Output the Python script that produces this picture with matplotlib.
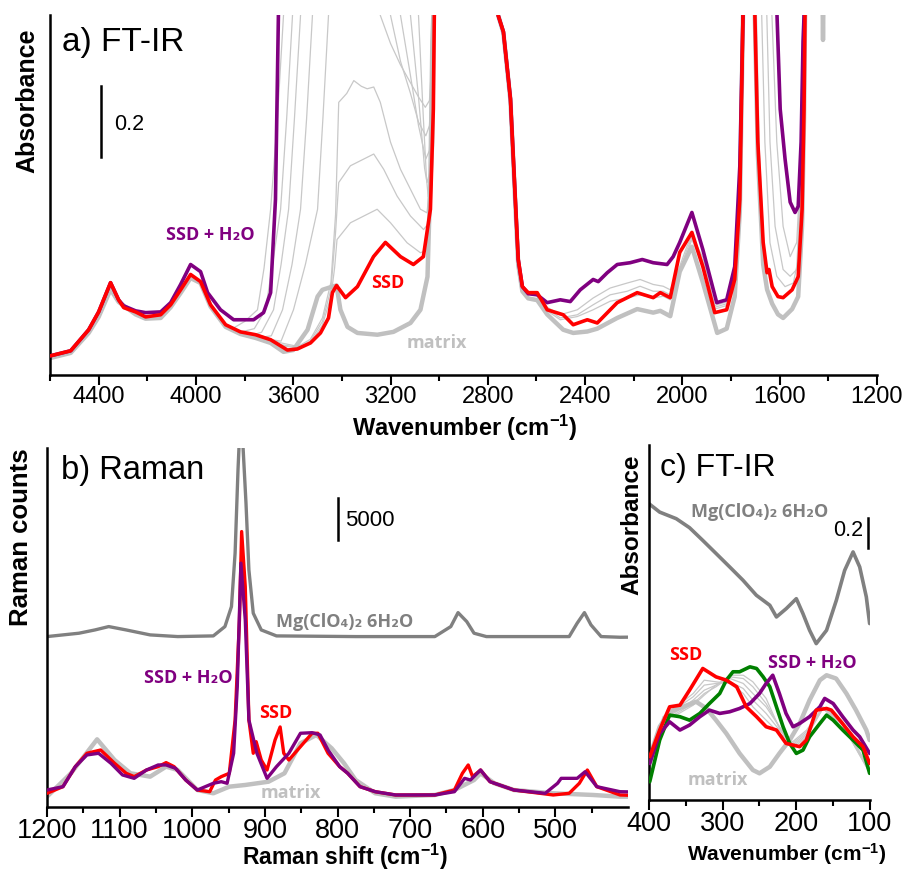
import matplotlib.pyplot as plt
from matplotlib.ticker import MultipleLocator, FixedLocator

plt.rcParams['font.family'] = ['Liberation Sans', 'DejaVu Sans']
plt.rcParams['mathtext.fontset'] = 'custom'
plt.rcParams['mathtext.rm'] = 'Liberation Sans'
plt.rcParams['mathtext.default'] = 'regular'

RED = '#ff0000'
PURPLE = '#800080'
GREEN = '#008000'
MATRIX = '#c0c0c0'
THIN = '#c8c8c8'
DARK = '#808080'
LABEL_FONT = ['Open Sans', 'DejaVu Sans']

# ---------------- a) FT-IR, (wavenumber cm-1, absorbance); 1.3 = off scale
ir_ssd = [(4597, 0.054), (4515, 0.068), (4441, 0.127), (4400, 0.177), (4351, 0.259), (4318, 0.211),
          (4297, 0.189), (4248, 0.177), (4207, 0.163), (4145, 0.169), (4104, 0.197), (4063, 0.239),
          (4022, 0.282), (3981, 0.262), (3940, 0.197), (3878, 0.141), (3817, 0.121), (3755, 0.113),
          (3693, 0.099), (3624, 0.070), (3583, 0.073), (3529, 0.090), (3488, 0.118), (3455, 0.160),
          (3439, 0.231), (3422, 0.251), (3385, 0.217), (3336, 0.248), (3270, 0.332), (3221, 0.372),
          (3159, 0.332), (3106, 0.310), (3065, 0.332), (3036, 0.465), (3024, 0.746), (3020, 1.008),
          (3005, 1.3), (2760, 1.3), (2757, 1.008), (2736, 0.963), (2707, 0.775), (2687, 0.493),
          (2675, 0.324), (2658, 0.248), (2634, 0.231), (2597, 0.231), (2556, 0.183), (2490, 0.169),
          (2449, 0.141), (2391, 0.155), (2350, 0.146), (2268, 0.203), (2186, 0.231), (2120, 0.217),
          (2091, 0.231), (2050, 0.217), (2011, 0.344), (1961, 0.400), (1916, 0.304), (1867, 0.175),
          (1818, 0.183), (1785, 0.268), (1764, 0.493), (1751, 1.008), (1740, 1.3), (1710, 1.3),
          (1702, 1.008), (1690, 0.654), (1668, 0.372), (1652, 0.287), (1644, 0.296), (1631, 0.248),
          (1607, 0.220), (1586, 0.217), (1549, 0.239), (1524, 0.276), (1508, 0.465), (1500, 0.746),
          (1496, 1.008), (1480, 1.3)]
ir_ssd_h2o = [(4597, 0.054), (4515, 0.068), (4441, 0.127), (4400, 0.177), (4351, 0.259), (4318, 0.211),
              (4297, 0.194), (4248, 0.180), (4207, 0.175), (4145, 0.177), (4104, 0.203), (4063, 0.254),
              (4022, 0.310), (3981, 0.290), (3952, 0.231), (3899, 0.183), (3845, 0.155), (3763, 0.155),
              (3722, 0.175), (3693, 0.231), (3673, 0.493), (3661, 1.008), (3650, 1.3), (2760, 1.3),
              (2757, 1.008), (2736, 0.963), (2707, 0.775), (2687, 0.493), (2675, 0.324), (2658, 0.248),
              (2634, 0.228), (2597, 0.225), (2556, 0.203), (2502, 0.211), (2461, 0.206), (2420, 0.239),
              (2367, 0.268), (2346, 0.262), (2309, 0.287), (2268, 0.310), (2215, 0.315), (2165, 0.324),
              (2120, 0.315), (2063, 0.310), (2038, 0.332), (2011, 0.372), (1961, 0.456), (1916, 0.352),
              (1859, 0.203), (1818, 0.211), (1785, 0.304), (1764, 0.586), (1751, 1.008), (1740, 1.3),
              (1625, 1.3), (1611, 1.008), (1598, 0.746), (1578, 0.606), (1557, 0.485), (1537, 0.456),
              (1524, 0.473), (1512, 0.654), (1504, 0.935), (1500, 1.008), (1490, 1.3)]
ir_matrix = [(4597, 0.048), (4515, 0.062), (4441, 0.118), (4400, 0.163), (4351, 0.240), (4318, 0.205),
             (4248, 0.170), (4207, 0.158), (4145, 0.160), (4104, 0.190), (4063, 0.230), (4022, 0.272),
             (3981, 0.258), (3940, 0.192), (3878, 0.135), (3817, 0.115), (3755, 0.104), (3693, 0.090),
             (3640, 0.065), (3600, 0.070), (3541, 0.127), (3500, 0.220), (3480, 0.239), (3439, 0.248),
             (3422, 0.251), (3406, 0.183), (3377, 0.135), (3336, 0.118), (3254, 0.113), (3188, 0.121),
             (3118, 0.146), (3077, 0.183), (3048, 0.276), (3036, 0.558), (3028, 0.935), (3024, 1.008),
             (3010, 1.3), (2760, 1.3), (2757, 1.008), (2736, 0.96), (2707, 0.77), (2687, 0.48),
             (2675, 0.31), (2658, 0.235), (2634, 0.215), (2597, 0.21), (2556, 0.17), (2490, 0.127),
             (2449, 0.118), (2391, 0.122), (2350, 0.13), (2268, 0.16), (2186, 0.185), (2120, 0.175),
             (2091, 0.18), (2050, 0.165), (2011, 0.29), (1961, 0.36), (1916, 0.26), (1857, 0.118),
             (1818, 0.13), (1785, 0.22), (1764, 0.46), (1751, 1.008), (1740, 1.3), (1710, 1.3),
             (1702, 1.0), (1690, 0.62), (1668, 0.31), (1652, 0.24), (1631, 0.2), (1607, 0.17),
             (1586, 0.16), (1549, 0.185), (1524, 0.22), (1508, 0.42), (1500, 0.72), (1496, 1.0),
             (1480, 1.3), (1428, 1.3), (1422, 0.94), (1416, 1.3)]

# intermediate (thin grey) spectra, O-H region
ir_gray1 = [(3850, 0.13), (3800, 0.15), (3747, 0.183), (3720, 0.30), (3693, 0.465), (3665, 0.72), (3640, 1.009),
            (3620, 1.3), (3260, 1.3), (3242, 1.009), (3200, 0.93), (3159, 0.87), (3118, 0.82), (3085, 0.78),
            (3057, 0.751), (3040, 0.77), (3030, 0.88), (3024, 1.009), (3015, 1.3)]
ir_gray2 = [(3820, 0.12), (3760, 0.13), (3714, 0.183), (3685, 0.31), (3652, 0.465), (3627, 0.72), (3603, 1.009),
            (3585, 1.3), (3220, 1.3), (3200, 1.009), (3159, 0.88), (3118, 0.79), (3085, 0.71), (3055, 0.671),
            (3040, 0.70), (3030, 0.85), (3022, 1.009), (3012, 1.3)]
ir_gray3 = [(3780, 0.11), (3730, 0.12), (3681, 0.183), (3650, 0.31), (3619, 0.465), (3595, 0.72), (3570, 1.009),
            (3550, 1.3), (3175, 1.3), (3159, 1.009), (3118, 0.84), (3085, 0.70), (3055, 0.606), (3040, 0.63),
            (3030, 0.80), (3021, 1.009), (3010, 1.3)]
ir_gray4 = [(3740, 0.105), (3690, 0.11), (3644, 0.183), (3605, 0.31), (3570, 0.465), (3545, 0.72), (3521, 1.009),
            (3500, 1.3), (3135, 1.3), (3118, 1.009), (3085, 0.78), (3060, 0.58), (3050, 0.540), (3038, 0.57),
            (3028, 0.75), (3020, 1.009), (3008, 1.3)]
ir_gray5 = [(3700, 0.10), (3650, 0.095), (3599, 0.183), (3550, 0.31), (3500, 0.465), (3478, 0.72), (3455, 1.009),
            (3440, 1.3), (3100, 1.3), (3085, 1.009), (3065, 0.72), (3052, 0.55), (3045, 0.50), (3036, 0.55),
            (3027, 0.72), (3019, 1.009), (3007, 1.3)]
ir_gray6 = [(3750, 0.115), (3650, 0.09), (3580, 0.08), (3530, 0.10), (3480, 0.16), (3445, 0.26), (3426, 0.45),
            (3413, 0.765), (3380, 0.79), (3351, 0.826), (3320, 0.81), (3296, 0.803), (3269, 0.808), (3242, 0.765),
            (3200, 0.653), (3159, 0.577), (3118, 0.521), (3077, 0.465), (3050, 0.455), (3036, 0.55), (3029, 0.746),
            (3025, 1.009), (3015, 1.3)]
ir_gray7 = [(3750, 0.11), (3650, 0.085), (3580, 0.078), (3530, 0.095), (3480, 0.15), (3445, 0.24), (3426, 0.40),
            (3413, 0.540), (3365, 0.587), (3269, 0.620), (3228, 0.577), (3173, 0.502), (3118, 0.446), (3064, 0.408),
            (3043, 0.427), (3030, 0.70), (3020, 1.009), (3010, 1.3)]
ir_gray8 = [(3750, 0.11), (3650, 0.082), (3580, 0.076), (3530, 0.09), (3480, 0.14), (3445, 0.22), (3430, 0.30),
            (3420, 0.380), (3365, 0.427), (3255, 0.465), (3200, 0.427), (3132, 0.371), (3077, 0.343), (3043, 0.352),
            (3022, 0.653), (3016, 1.009), (3008, 1.3)]
# thin grey spectra, 2600-1750 and 1700-1490 regions
ir_mid1 = [(2597, 0.225), (2556, 0.19), (2502, 0.169), (2432, 0.183), (2367, 0.216), (2297, 0.244), (2227, 0.258),
           (2174, 0.268), (2120, 0.254), (2079, 0.249), (2050, 0.239), (2021, 0.286), (1981, 0.362), (1961, 0.390),
           (1916, 0.33), (1867, 0.195), (1818, 0.205), (1785, 0.29), (1764, 0.55), (1751, 1.008), (1740, 1.3)]
ir_mid2 = [(2597, 0.222), (2556, 0.185), (2502, 0.160), (2432, 0.169), (2367, 0.197), (2297, 0.225), (2227, 0.235),
           (2174, 0.249), (2120, 0.235), (2079, 0.235), (2050, 0.225), (2021, 0.277), (1981, 0.352), (1961, 0.385),
           (1916, 0.32), (1867, 0.19), (1818, 0.20), (1785, 0.285), (1764, 0.54), (1751, 1.008), (1740, 1.3)]
ir_mid3 = [(2597, 0.22), (2556, 0.18), (2502, 0.155), (2432, 0.164), (2367, 0.183), (2297, 0.207), (2227, 0.216),
           (2174, 0.225), (2120, 0.216), (2079, 0.221), (2050, 0.211), (2021, 0.268), (1981, 0.343), (1961, 0.380),
           (1916, 0.31), (1867, 0.185), (1818, 0.195), (1785, 0.28), (1764, 0.53), (1751, 1.008), (1740, 1.3)]
ir_band1 = [(1700, 1.3), (1632, 1.009), (1612, 0.654), (1586, 0.417), (1557, 0.332), (1530, 0.372), (1516, 0.558),
            (1509, 0.84), (1505, 1.009), (1495, 1.3)]
ir_band2 = [(1700, 1.3), (1653, 1.009), (1640, 0.654), (1619, 0.417), (1586, 0.296), (1557, 0.277), (1530, 0.296),
            (1516, 0.521), (1509, 0.746), (1505, 1.009), (1495, 1.3)]
ir_band3 = [(1720, 1.3), (1674, 1.009), (1661, 0.654), (1640, 0.371), (1612, 0.277), (1578, 0.248), (1544, 0.258),
            (1524, 0.324), (1512, 0.654), (1505, 1.009), (1495, 1.3)]
ir_ticks = [4400, 4000, 3600, 3200, 2800, 2400, 2000, 1600, 1200]

# ---------------- b) Raman, (Raman shift cm-1, counts)
raman_mg = [(1200, 20270), (1156, 20670), (1134, 21060), (1115, 21460), (1091, 21060), (1058, 20470), (1020, 20270),
            (971, 20350), (955, 21460), (946, 23840), (941, 30190), (937, 40100), (933, 48000), (930, 42700),
            (926, 36140), (922, 28200), (916, 23050), (905, 21060), (884, 20350), (775, 20270), (666, 20270),
            (644, 21460), (634, 23120), (622, 22050), (612, 20670), (595, 20270), (481, 20270), (470, 21860),
            (460, 23120), (451, 21660), (437, 20270), (411, 20190), (400, 20200)]
raman_matrix = [(1200, 1230), (1167, 4010), (1131, 8050), (1107, 5590), (1085, 4010), (1058, 3610), (1036, 4800),
                (1020, 4400), (993, 2020), (971, 1630), (949, 2420), (927, 2620), (895, 3010), (873, 4010),
                (851, 7580), (829, 8570), (808, 6980), (791, 5200), (775, 3210), (748, 1630), (720, 1230),
                (666, 1430), (639, 2020), (612, 3210), (603, 4010), (584, 2820), (557, 2020), (503, 1630),
                (448, 1430), (411, 1230), (400, 1230)]
raman_ssd = [(1200, 1630), (1178, 2420), (1161, 4800), (1145, 6390), (1126, 6780), (1107, 5200), (1091, 4010),
             (1080, 3610), (1063, 4400), (1047, 4800), (1036, 5280), (1025, 4800), (1009, 3210), (993, 2020),
             (976, 1820), (968, 3210), (960, 3610), (949, 4010), (941, 10350), (935, 22250), (932, 32760),
             (927, 26220), (922, 10350), (916, 6390), (912, 7770), (905, 5590), (897, 4400), (886, 7970),
             (879, 9520), (874, 6390), (867, 5590), (851, 7180), (835, 8770), (827, 8770), (813, 6390),
             (797, 4800), (786, 4010), (769, 2420), (748, 1820), (720, 1430), (666, 1430), (639, 2020),
             (628, 4010), (620, 5000), (614, 3610), (603, 4400), (590, 3010), (557, 2020), (503, 1430),
             (481, 1630), (467, 2820), (456, 4400), (443, 2420), (411, 1430), (400, 1400)]
raman_ssd_h2o = [(1200, 2020), (1178, 2420), (1161, 4800), (1145, 6190), (1129, 6390), (1112, 5200), (1096, 3810),
                 (1080, 3410), (1063, 4400), (1047, 5000), (1036, 5000), (1023, 4600), (1009, 3210), (993, 2020),
                 (971, 2820), (960, 3010), (952, 2820), (943, 6390), (938, 14320), (933, 29000), (927, 22250),
                 (922, 10350), (911, 6390), (897, 3410), (884, 4800), (867, 6390), (851, 8770), (835, 8840),
                 (824, 8570), (813, 6780), (797, 4800), (786, 4010), (769, 2420), (748, 1820), (720, 1430),
                 (666, 1430), (639, 1820), (625, 3410), (617, 3210), (603, 4400), (590, 3010), (557, 2020),
                 (514, 1630), (497, 2820), (492, 3410), (470, 3410), (459, 4200), (443, 2420), (411, 1820),
                 (400, 1800)]
raman_ticks = [1200, 1100, 1000, 900, 800, 700, 600, 500]

# ---------------- c) far-IR, (wavenumber cm-1, absorbance)
fir_mg = [(400, 1.978), (385.5, 1.922), (363, 1.878), (345, 1.818), (327, 1.733), (308.6, 1.644), (290.5, 1.556),
          (272.4, 1.467), (254.3, 1.367), (236, 1.3), (227, 1.222), (213.6, 1.278), (200, 1.344), (191, 1.244),
          (182, 1.133), (173, 1.044), (159, 1.133), (145.7, 1.333), (134.4, 1.533), (123, 1.656), (114, 1.556),
          (105, 1.356), (100.5, 1.178)]
fir_ssd = [(399, 0.289), (385.5, 0.467), (372, 0.622), (358, 0.633), (345, 0.733), (327, 0.878), (309, 0.822),
           (295, 0.8), (281, 0.756), (268, 0.622), (254, 0.556), (241, 0.489), (227, 0.467), (214, 0.378),
           (195.5, 0.356), (186.4, 0.4), (173, 0.6), (159, 0.611), (152.5, 0.6), (141, 0.533), (123, 0.422),
           (109.5, 0.356), (100.5, 0.244)]
fir_final = [(399, 0.122), (385.5, 0.4), (372, 0.567), (358, 0.556), (345, 0.533), (331, 0.578), (318, 0.644),
             (304, 0.711), (295, 0.8), (286, 0.856), (277, 0.856), (263, 0.889), (254, 0.878), (245, 0.822),
             (236, 0.756), (227, 0.622), (218, 0.489), (209, 0.378), (200, 0.311), (191, 0.333), (182, 0.422),
             (168, 0.511), (159, 0.567), (150, 0.533), (137, 0.467), (123, 0.4), (109.5, 0.333), (100.5, 0.178)]
fir_ssd_h2o = [(399, 0.244), (385.5, 0.444), (372, 0.522), (358, 0.467), (345, 0.5), (331, 0.556), (318, 0.6),
               (304, 0.578), (290.5, 0.589), (277, 0.611), (263, 0.644), (250, 0.711), (241, 0.778), (232, 0.833),
               (223, 0.711), (214, 0.578), (204.5, 0.489), (195.5, 0.511), (182, 0.556), (168, 0.622),
               (161.5, 0.678), (150, 0.644), (137, 0.556), (123, 0.467), (114, 0.422), (100.5, 0.311)]
fir_matrix = [(399, 0.289), (385.5, 0.489), (372, 0.589), (354, 0.622), (336, 0.656), (322, 0.611), (309, 0.533),
              (295, 0.444), (277, 0.311), (259, 0.2), (250, 0.178), (236, 0.222), (223, 0.311), (209, 0.4),
              (195.5, 0.511), (182, 0.667), (168, 0.8), (159, 0.833), (146, 0.811), (132, 0.711), (119, 0.6),
              (105, 0.467), (100.5, 0.4)]
fir_wn = [400, 381, 363, 340, 325, 309, 290, 272, 259, 241, 223, 205, 186, 164, 137, 100]
fir_gray1 = [0.267, 0.556, 0.622, 0.711, 0.8, 0.789, 0.778, 0.711, 0.622, 0.533, 0.444, 0.389, 0.467, 0.622, 0.522, 0.2]
fir_gray2 = [0.244, 0.544, 0.611, 0.689, 0.767, 0.778, 0.789, 0.744, 0.667, 0.578, 0.467, 0.378, 0.456, 0.611, 0.511, 0.189]
fir_gray3 = [0.222, 0.544, 0.589, 0.667, 0.733, 0.767, 0.811, 0.778, 0.711, 0.622, 0.489, 0.367, 0.444, 0.611, 0.511, 0.189]
fir_gray4 = [0.2, 0.533, 0.578, 0.644, 0.711, 0.756, 0.822, 0.811, 0.756, 0.644, 0.489, 0.356, 0.433, 0.611, 0.5, 0.178]
fir_gray5 = [0.178, 0.533, 0.567, 0.633, 0.7, 0.767, 0.833, 0.833, 0.789, 0.678, 0.478, 0.344, 0.422, 0.611, 0.5, 0.178]
fir_ticks = [400, 300, 200, 100]


def px(x, y):
    # figure pixel position (from top-left) -> figure fraction
    return x / 903, 1 - y / 875


def curve(ax, pts, **kw):
    xs = [p[0] for p in pts]
    ys = [p[1] for p in pts]
    ax.plot(xs, ys, solid_capstyle='round', solid_joinstyle='round', **kw)


def style(ax, fs):
    for s in ('top', 'right'):
        ax.spines[s].set_visible(False)
    for s in ('left', 'bottom'):
        ax.spines[s].set_linewidth(1.8)
    ax.set_yticks([])
    ax.tick_params(axis='x', which='major', direction='out', length=7, width=1.5, pad=1, labelsize=fs)
    ax.tick_params(axis='x', which='minor', direction='out', length=4, width=1.5)


fig = plt.figure(figsize=(9.03, 8.75), dpi=100)

# ---- panel a
l, b = px(50, 375)
ax_a = fig.add_axes([l, b, 827 / 903, 360 / 875])
for g in (ir_gray1, ir_gray2, ir_gray3, ir_gray4, ir_gray5, ir_gray6, ir_gray7, ir_gray8,
          ir_mid1, ir_mid2, ir_mid3, ir_band1, ir_band2, ir_band3):
    curve(ax_a, g, color=THIN, lw=0.9, zorder=1)
curve(ax_a, ir_matrix, color=MATRIX, lw=3.2, zorder=2)
curve(ax_a, ir_ssd_h2o, color=PURPLE, lw=2.6, zorder=3)
curve(ax_a, ir_ssd, color=RED, lw=2.6, zorder=4)
ax_a.plot([4392, 4392], [0.611, 0.611 + 0.2], color='black', lw=1.8)
ax_a.set_xlim(4600, 1200)
ax_a.set_ylim(0, 1.01)
ax_a.xaxis.set_major_locator(FixedLocator(ir_ticks))
ax_a.xaxis.set_minor_locator(MultipleLocator(400, offset=200))
style(ax_a, 17)

fig.text(*px(62, 42), 'a) FT-IR', fontsize=24, ha='left', va='center')
fig.text(*px(27, 101), 'Absorbance', fontsize=18, fontweight='bold', rotation=90, ha='center', va='center')
fig.text(*px(114, 125), '0.2', fontsize=15.5, ha='left', va='center')
fig.text(*px(210, 235), 'SSD + H₂O', color=PURPLE, fontsize=13, fontweight='bold', family=LABEL_FONT,
         ha='center', va='center')
fig.text(*px(388, 283), 'SSD', color=RED, fontsize=13, fontweight='bold', family=LABEL_FONT, ha='center', va='center')
fig.text(*px(437, 343), 'matrix', color=MATRIX, fontsize=13, fontweight='bold', family=LABEL_FONT,
         ha='center', va='center')
fig.text(*px(465, 428), 'Wavenumber (cm$^{-1}$)', fontsize=17, fontweight='bold', ha='center', va='center')

# ---- panel b
l, b = px(47, 807)
ax_b = fig.add_axes([l, b, 581 / 903, 359 / 875])
curve(ax_b, raman_mg, color=DARK, lw=2.4, zorder=2)
curve(ax_b, raman_matrix, color=MATRIX, lw=3.2, zorder=1)
curve(ax_b, raman_ssd, color=RED, lw=2.4, zorder=3)
curve(ax_b, raman_ssd_h2o, color=PURPLE, lw=2.4, zorder=4)
ax_b.plot([800, 800], [31770, 31770 + 5000], color='black', lw=1.8)
ax_b.set_xlim(1200, 400)
ax_b.set_ylim(0, 42700)
ax_b.xaxis.set_major_locator(FixedLocator(raman_ticks))
ax_b.xaxis.set_minor_locator(MultipleLocator(100, offset=50))
style(ax_b, 19.5)

fig.text(*px(61, 470), 'b) Raman', fontsize=23.5, ha='left', va='center')
fig.text(*px(21, 537), 'Raman counts', fontsize=18.5, fontweight='bold', rotation=90, ha='center', va='center')
fig.text(*px(345, 520), '5000', fontsize=16, ha='left', va='center')
fig.text(*px(345, 622), 'Mg(ClO₄)₂ 6H₂O', color=DARK, fontsize=13, fontweight='bold', family=LABEL_FONT,
         ha='center', va='center')
fig.text(*px(188, 678), 'SSD + H₂O', color=PURPLE, fontsize=13, fontweight='bold', family=LABEL_FONT,
         ha='center', va='center')
fig.text(*px(276, 713), 'SSD', color=RED, fontsize=13, fontweight='bold', family=LABEL_FONT, ha='center', va='center')
fig.text(*px(291, 793), 'matrix', color=MATRIX, fontsize=13, fontweight='bold', family=LABEL_FONT,
         ha='center', va='center')
fig.text(*px(345, 857), 'Raman shift (cm$^{-1}$)', fontsize=16.5, fontweight='bold', ha='center', va='center')

# ---- panel c
l, b = px(649, 800)
ax_c = fig.add_axes([l, b, 221 / 903, 355 / 875])
for g in (fir_gray1, fir_gray2, fir_gray3, fir_gray4, fir_gray5):
    ax_c.plot(fir_wn, g, color=THIN, lw=0.9, zorder=1)
curve(ax_c, fir_matrix, color=MATRIX, lw=3.2, zorder=2)
curve(ax_c, fir_mg, color=DARK, lw=2.6, zorder=2)
curve(ax_c, fir_final, color=GREEN, lw=2.6, zorder=3)
curve(ax_c, fir_ssd_h2o, color=PURPLE, lw=2.6, zorder=4)
curve(ax_c, fir_ssd, color=RED, lw=2.6, zorder=5)
ax_c.plot([103, 103], [1.68, 1.68 + 0.2], color='black', lw=1.8)
ax_c.set_xlim(400, 100)
ax_c.set_ylim(0, 2.37)
ax_c.xaxis.set_major_locator(FixedLocator(fir_ticks))
ax_c.xaxis.set_minor_locator(MultipleLocator(100, offset=50))
style(ax_c, 19.5)

fig.text(*px(660, 468), 'c) FT-IR', fontsize=23, ha='left', va='center')
fig.text(*px(632, 525), 'Absorbance', fontsize=17.5, fontweight='bold', rotation=90, ha='center', va='center')
fig.text(*px(863, 530), '0.2', fontsize=15.5, ha='right', va='center')
fig.text(*px(760, 512), 'Mg(ClO₄)₂ 6H₂O', color=DARK, fontsize=13, fontweight='bold', family=LABEL_FONT,
         ha='center', va='center')
fig.text(*px(686, 655), 'SSD', color=RED, fontsize=13, fontweight='bold', family=LABEL_FONT, ha='center', va='center')
fig.text(*px(812, 663), 'SSD + H₂O', color=PURPLE, fontsize=13, fontweight='bold', family=LABEL_FONT,
         ha='center', va='center')
fig.text(*px(718, 780), 'matrix', color=MATRIX, fontsize=13, fontweight='bold', family=LABEL_FONT,
         ha='center', va='center')
fig.text(*px(787, 854), 'Wavenumber (cm$^{-1}$)', fontsize=15, fontweight='bold', ha='center', va='center')

fig.savefig('out.png', dpi=100)
